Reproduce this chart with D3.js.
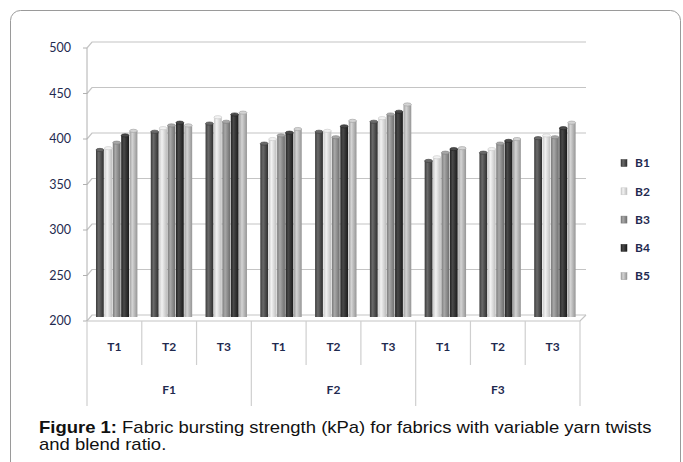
<!DOCTYPE html>
<html><head><meta charset="utf-8">
<script src="https://cdn.jsdelivr.net/npm/d3@7/dist/d3.min.js"></script>
<style>html,body{margin:0;padding:0;background:#fff;}svg{display:block;}</style>
</head><body>
<svg id="c" width="683" height="462"></svg>
<script>
const fabrics = ["F1","F2","F3"];
const twists = ["T1","T2","T3"];
const series = ["B1","B2","B3","B4","B5"];
// values per series, order: F1T1,F1T2,F1T3,F2T1,F2T2,F2T3,F3T1,F3T2,F3T3
const B1 = [383, 403, 412, 390, 403, 414, 371, 380, 396];
const B2 = [385, 407, 419, 395, 404, 418, 375, 384, 399];
const B3 = [391, 410, 414, 399, 397, 422, 380, 390, 397];
const B4 = [399, 413, 422, 402, 409, 425, 384, 393, 407];
const B5 = [404, 410, 424, 406, 415, 433, 385, 395, 413];
const yTicks = [200, 250, 300, 350, 400, 450, 500];
const caption1 = "Fabric bursting strength (kPa) for fabrics with variable yarn twists";
const caption2 = "and blend ratio.";

const seriesVals = [B1,B2,B3,B4,B5];
const colors = {
  B1: ["#3a3a3a","#6a6a6a","#2e2e2e"],
  B2: ["#c8c8c8","#f2f2f2","#bdbdbd"],
  B3: ["#7a7a7a","#a8a8a8","#6e6e6e"],
  B4: ["#222222","#4a4a4a","#1a1a1a"],
  B5: ["#9e9e9e","#d4d4d4","#959595"]
};

const svg = d3.select("#c");
const defs = svg.append("defs");
series.forEach(s => {
  const g = defs.append("linearGradient").attr("id","g"+s).attr("x1","0").attr("x2","1").attr("y1","0").attr("y2","0");
  const c = colors[s];
  g.append("stop").attr("offset","0%").attr("stop-color",c[0]);
  g.append("stop").attr("offset","35%").attr("stop-color",c[1]);
  g.append("stop").attr("offset","100%").attr("stop-color",c[2]);
});

// frame
svg.append("rect").attr("x",10.5).attr("y",10.5).attr("width",670).attr("height",470)
  .attr("rx",10).attr("fill","none").attr("stroke","#9a9a9a").attr("stroke-width",1);

const keys = [];
fabrics.forEach(f => twists.forEach(t => keys.push(f+"-"+t)));
const x0 = 87, x1 = 580, dx = 5, dy = -6;
const x = d3.scaleBand().domain(keys).range([x0, x1]).padding(0);
const xs = d3.scaleBand().domain(series).range([0, x.bandwidth()]).paddingInner(0).paddingOuter(0.76);
const yBack = d3.scaleLinear().domain([200, 500]).range([315, 42]);
const yFront = v => yBack(v) - dy;

const grid = svg.append("g");
yTicks.forEach(v => {
  grid.append("path")
    .attr("d", `M${x0},${yFront(v)}L${x0+dx},${yBack(v)}L${x1+dx+1},${yBack(v)}`)
    .attr("fill","none").attr("stroke","#c4c4c4").attr("stroke-width",1.2);
  grid.append("line").attr("x1",x0-4).attr("x2",x0).attr("y1",yFront(v)).attr("y2",yFront(v))
    .attr("stroke","#b0b0b0");
});
// front axis
grid.append("line").attr("x1",x0).attr("x2",x0).attr("y1",yFront(500)).attr("y2",yFront(200)).attr("stroke","#b0b0b0");
// floor front + right edge
grid.append("path").attr("d",`M${x0},${yFront(200)}L${x1},${yFront(200)}L${x1+dx+1},${yBack(200)}`)
  .attr("fill","none").attr("stroke","#c4c4c4").attr("stroke-width",1.2);

// y labels
svg.append("g").selectAll("text").data(yTicks).join("text")
  .attr("x",71).attr("y",v=>yFront(v)).attr("dy","0.35em").attr("text-anchor","end")
  .attr("font-family","Lato, 'Open Sans', sans-serif").attr("font-size",12.5).attr("fill","#1f2a4f")
  .text(d=>d);

// bars
const off = 2.6;
const bars = svg.append("g");
keys.forEach((k,i) => {
  series.forEach((s,j) => {
    const v = seriesVals[j][i];
    const bx = x(k) + xs(s) + off;
    const w = xs.bandwidth();
    const top = yBack(v);
    const bot = yBack(200) + 2;
    bars.append("rect").attr("x",bx).attr("y",top+1.5).attr("width",w-0.6).attr("height",bot-top-1.5)
      .attr("fill","url(#g"+s+")");
    bars.append("ellipse").attr("cx",bx+(w-0.6)/2).attr("cy",top+1.5).attr("rx",(w-0.6)/2).attr("ry",1.6)
      .attr("fill",colors[s][1]).attr("stroke",colors[s][0]).attr("stroke-width",0.6);
  });
});

// category axis
const cat = svg.append("g");
const yb = yFront(200);
keys.forEach((k,i) => {
  const xl = x(k);
  const isF = i % 3 === 0;
  cat.append("line").attr("x1",xl).attr("x2",xl).attr("y1",yb).attr("y2",isF?406:365)
    .attr("stroke","#cfcfcf").attr("stroke-width",1.2);
  cat.append("text").attr("x",xl+x.bandwidth()/2).attr("y",347).attr("dy","0.35em").attr("text-anchor","middle")
    .attr("font-family","Lato, 'Open Sans', sans-serif").attr("font-weight","bold").attr("font-size",12).attr("fill","#1f2a4f")
    .text(k.split("-")[1]);
});
cat.append("line").attr("x1",x1).attr("x2",x1).attr("y1",yb).attr("y2",406).attr("stroke","#cfcfcf").attr("stroke-width",1.2);
fabrics.forEach((f,i) => {
  const a = x(f+"-T1"), b = x(f+"-T3")+x.bandwidth();
  cat.append("text").attr("x",(a+b)/2).attr("y",390).attr("dy","0.35em").attr("text-anchor","middle")
    .attr("font-family","Lato, 'Open Sans', sans-serif").attr("font-weight","bold").attr("font-size",12).attr("fill","#1f2a4f")
    .text(f);
});

// legend
const leg = svg.append("g");
series.forEach((s,i) => {
  const ly = 163 + i*28.3;
  leg.append("rect").attr("x",621).attr("y",ly-3.5).attr("width",6).attr("height",7)
    .attr("fill","url(#g"+s+")").attr("stroke",colors[s][0]).attr("stroke-width",0.5);
  leg.append("text").attr("x",635).attr("y",ly).attr("dy","0.35em")
    .attr("font-family","Lato, 'Open Sans', sans-serif").attr("font-weight","bold").attr("font-size",12).attr("fill","#1f2a4f")
    .text(s);
});

// caption
const capG = svg.append("g").attr("transform","translate(39,0) scale(1.155,1)");
const cap = capG.append("text").attr("x",0).attr("y",433.5)
  .attr("font-family","'Liberation Sans', Arial, sans-serif").attr("font-size",16).attr("fill","#111");
cap.append("tspan").attr("font-weight","bold").text("Figure 1:");
cap.append("tspan").text(" " + caption1);
capG.append("text").attr("x",0).attr("y",450.5)
  .attr("font-family","'Liberation Sans', Arial, sans-serif").attr("font-size",16).attr("fill","#111")
  .text(caption2);
</script>
</body></html>
